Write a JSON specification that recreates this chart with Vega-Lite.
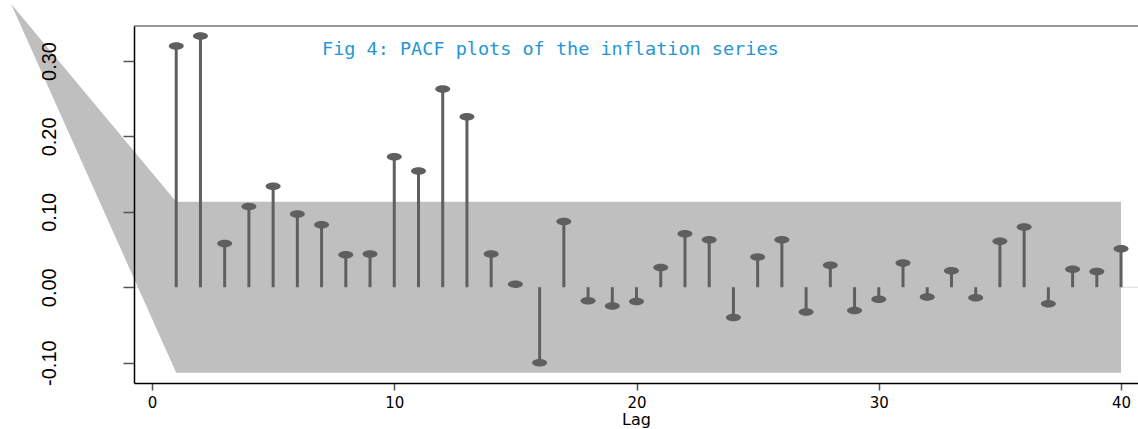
{
  "$schema": "https://vega.github.io/schema/vega-lite/v6.json",
  "width": 1004,
  "height": 357,
  "autosize": "none",
  "padding": {"left": 134, "top": 26, "right": 0, "bottom": 46},
  "background": "white",
  "config": {"view": {"stroke": null}},
  "title": {
    "text": "Fig 4: PACF plots of the inflation series",
    "anchor": "start",
    "frame": "group",
    "orient": "top",
    "baseline": "top",
    "offset": -15,
    "dx": 188,
    "dy": 40,
    "font": "DejaVu Sans Mono",
    "fontSize": 18.5,
    "fontWeight": "normal",
    "color": "#2596d1"
  },
  "datasets": {
    "pacf": [
      {"lag": 1, "pacf": 0.320}, {"lag": 2, "pacf": 0.333}, {"lag": 3, "pacf": 0.058},
      {"lag": 4, "pacf": 0.107}, {"lag": 5, "pacf": 0.134}, {"lag": 6, "pacf": 0.097},
      {"lag": 7, "pacf": 0.083}, {"lag": 8, "pacf": 0.043}, {"lag": 9, "pacf": 0.044},
      {"lag": 10, "pacf": 0.173}, {"lag": 11, "pacf": 0.154}, {"lag": 12, "pacf": 0.263},
      {"lag": 13, "pacf": 0.226}, {"lag": 14, "pacf": 0.044}, {"lag": 15, "pacf": 0.004},
      {"lag": 16, "pacf": -0.100}, {"lag": 17, "pacf": 0.087}, {"lag": 18, "pacf": -0.018},
      {"lag": 19, "pacf": -0.025}, {"lag": 20, "pacf": -0.019}, {"lag": 21, "pacf": 0.026},
      {"lag": 22, "pacf": 0.071}, {"lag": 23, "pacf": 0.063}, {"lag": 24, "pacf": -0.040},
      {"lag": 25, "pacf": 0.040}, {"lag": 26, "pacf": 0.063}, {"lag": 27, "pacf": -0.033},
      {"lag": 28, "pacf": 0.029}, {"lag": 29, "pacf": -0.031}, {"lag": 30, "pacf": -0.016},
      {"lag": 31, "pacf": 0.032}, {"lag": 32, "pacf": -0.013}, {"lag": 33, "pacf": 0.022},
      {"lag": 34, "pacf": -0.014}, {"lag": 35, "pacf": 0.061}, {"lag": 36, "pacf": 0.080},
      {"lag": 37, "pacf": -0.022}, {"lag": 38, "pacf": 0.024}, {"lag": 39, "pacf": 0.021},
      {"lag": 40, "pacf": 0.051}
    ],
    "band": [
      {"lag": -5.82, "upper": 0.376, "lower": 0.376},
      {"lag": 1, "upper": 0.1135, "lower": -0.1135},
      {"lag": 40, "upper": 0.1135, "lower": -0.1135}
    ]
  },
  "layer": [
    {
      "data": {"values": [{}]},
      "mark": {"type": "rule", "color": "#d9d9d9", "strokeWidth": 1},
      "encoding": {"y": {"datum": 0, "type": "quantitative"}}
    },
    {
      "data": {"name": "band"},
      "mark": {"type": "area", "color": "#bfbfbf", "opacity": 1, "clip": false},
      "encoding": {
        "x": {"field": "lag", "type": "quantitative"},
        "y": {"field": "upper", "type": "quantitative"},
        "y2": {"field": "lower"}
      }
    },
    {
      "data": {"values": [{}]},
      "mark": {"type": "rule", "color": "#999999", "strokeWidth": 2},
      "encoding": {"y": {"datum": 0.3464, "type": "quantitative"}}
    },
    {
      "data": {"name": "pacf"},
      "mark": {"type": "rule", "color": "#5f5f5f", "strokeWidth": 3},
      "encoding": {
        "x": {"field": "lag", "type": "quantitative"},
        "y": {"field": "pacf", "type": "quantitative"},
        "y2": {"datum": 0}
      }
    },
    {
      "data": {"name": "pacf"},
      "mark": {
        "type": "point",
        "filled": true,
        "color": "#5f5f5f",
        "opacity": 1,
        "size": 225,
        "shape": "M -1 0 A 1 0.5 0 1 0 1 0 A 1 0.5 0 1 0 -1 0 Z"
      },
      "encoding": {
        "x": {
          "field": "lag",
          "type": "quantitative",
          "scale": {"domain": [-0.743, 40.70], "nice": false, "zero": false},
          "axis": {
            "title": "Lag",
            "zindex": 1,
            "values": [0, 10, 20, 30, 40],
            "grid": false,
            "domainColor": "#000000",
            "domainWidth": 1.5,
            "tickColor": "#555555",
            "tickWidth": 1.5,
            "tickSize": 7,
            "labelPadding": 5,
            "labelFont": "DejaVu Sans",
            "labelFontSize": 15,
            "labelColor": "#000000",
            "titleFont": "DejaVu Sans",
            "titleFontSize": 16,
            "titleFontWeight": "normal",
            "titleColor": "#000000",
            "titlePadding": 1
          }
        },
        "y": {
          "field": "pacf",
          "type": "quantitative",
          "scale": {"domain": [-0.127, 0.3464], "nice": false, "zero": false},
          "axis": {
            "title": null,
            "zindex": 1,
            "values": [-0.1, 0, 0.1, 0.2, 0.3],
            "format": ".2f",
            "labelExpr": "replace(datum.label, '\u2212', '-')",
            "grid": false,
            "domainColor": "#000000",
            "domainWidth": 1.5,
            "tickColor": "#555555",
            "tickWidth": 1.5,
            "tickSize": 11,
            "labelAngle": -90,
            "labelAlign": "center",
            "labelBaseline": "alphabetic",
            "labelPadding": 68,
            "labelFont": "Liberation Sans Narrow, Liberation Sans",
            "labelFontSize": 20,
            "labelColor": "#000000"
          }
        }
      }
    }
  ]
}
